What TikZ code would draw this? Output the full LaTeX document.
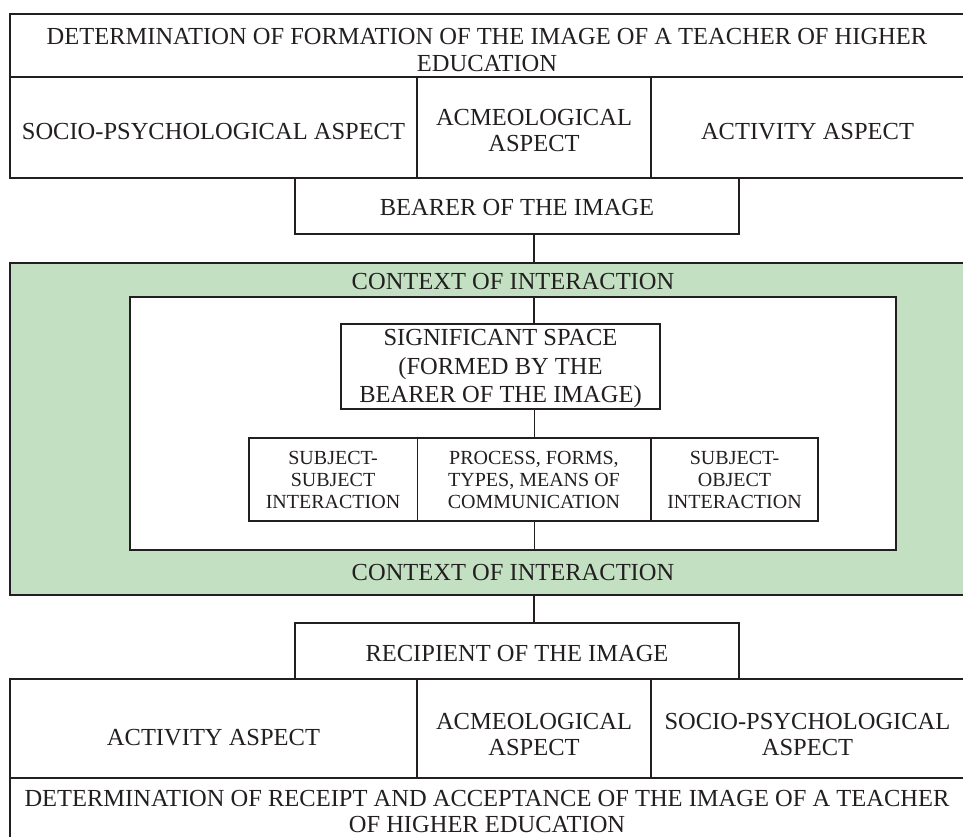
\documentclass[tikz,border=0pt]{standalone}
\usepackage{fontspec}
\setmainfont{Liberation Serif}
\definecolor{ink}{RGB}{35,31,32}
\definecolor{ctxgreen}{RGB}{195,224,194}
\begin{document}
\begin{tikzpicture}[x=1pt,y=-1pt,
  cell/.style={draw=ink, line width=1.1pt, inner sep=0pt, outer sep=0pt, anchor=north west, fill=white},
  txt/.style={text=ink, font=\fontsize{24.5}{26.5}\selectfont, align=center, inner sep=0pt},
  stxt/.style={text=ink, font=\fontsize{20}{22}\selectfont, align=center, inner sep=0pt},
  conn/.style={draw=ink, line width=1.1pt}]
\useasboundingbox (0,0) rectangle (963,837);
% boxes
\node[cell, minimum width=954pt, minimum height=63pt] (title) at (10,14) {};
\node[cell, minimum width=407pt, minimum height=101pt] (r1a) at (10,77) {};
\node[cell, minimum width=234pt, minimum height=101pt] (r1b) at (417,77) {};
\node[cell, minimum width=313pt, minimum height=101pt] (r1c) at (651,77) {};
\node[cell, minimum width=444pt, minimum height=56pt] (bearer) at (295,178) {};
\node[cell, fill=ctxgreen, minimum width=954pt, minimum height=332pt] (green) at (10,263) {};
\node[cell, minimum width=766pt, minimum height=253pt] (inner) at (130,297) {};
\node[cell, minimum width=319pt, minimum height=85pt] (sig) at (341,324) {};
\node[cell, minimum width=168.5pt, minimum height=83pt] (s1) at (249,438) {};
\node[cell, minimum width=233.5pt, minimum height=83pt] (s2) at (417.5,438) {};
\node[cell, minimum width=167pt, minimum height=83pt] (s3) at (651,438) {};
\node[cell, minimum width=444pt, minimum height=56pt] (recip) at (295,623) {};
\node[cell, minimum width=407pt, minimum height=99pt] (r2a) at (10,679) {};
\node[cell, minimum width=234pt, minimum height=99pt] (r2b) at (417,679) {};
\node[cell, minimum width=313pt, minimum height=99pt] (r2c) at (651,679) {};
\node[cell, minimum width=954pt, minimum height=80pt] (bottom) at (10,778) {};
% connectors
\draw[conn] (bearer.south -| r1b.south) -- (green.north -| r1b.south);
\draw[conn] (inner.north -| r1b.south) -- (sig.north -| r1b.south);
\draw[conn] (sig.south -| s2.north) -- (s2.north);
\draw[conn] (s2.south) -- (inner.south -| s2.south);
\draw[conn] (green.south -| r1b.south) -- (recip.north -| r1b.south);
% texts
\node[txt] (ttitle) at (487,50) {DETERMINATION OF FORMATION OF THE IMAGE OF A TEACHER OF HIGHER\\EDUCATION};
\node[txt] (t1a) at (213.5,132) {SOCIO-PSYCHOLOGICAL ASPECT};
\node[txt] (t1b) at (534,130.5) {ACMEOLOGICAL\\ASPECT};
\node[txt] (t1c) at (807.5,132) {ACTIVITY ASPECT};
\node[txt] (tbearer) at (517,208) {BEARER OF THE IMAGE};
\node[txt] (tctx1) at (513,282) {CONTEXT OF INTERACTION};
\node[txt, font=\fontsize{24.5}{28.5}\selectfont] (tsig) at (500.5,368.5) {SIGNIFICANT SPACE\\(FORMED BY THE\\BEARER OF THE IMAGE)};
\node[stxt] (ts1) at (333,480) {SUBJECT-\\SUBJECT\\INTERACTION};
\node[stxt] (ts2) at (534,480) {PROCESS, FORMS,\\TYPES, MEANS OF\\COMMUNICATION};
\node[stxt] (ts3) at (734.5,480) {SUBJECT-\\OBJECT\\INTERACTION};
\node[txt] (tctx2) at (513,573) {CONTEXT OF INTERACTION};
\node[txt] (trecip) at (517,654) {RECIPIENT OF THE IMAGE};
\node[txt] (t2a) at (213.5,738) {ACTIVITY ASPECT};
\node[txt] (t2b) at (534,734.5) {ACMEOLOGICAL\\ASPECT};
\node[txt] (t2c) at (807.5,734.5) {SOCIO-PSYCHOLOGICAL\\ASPECT};
\node[txt] (tbottom) at (487,811.5) {DETERMINATION OF RECEIPT AND ACCEPTANCE OF THE IMAGE OF A TEACHER\\OF HIGHER EDUCATION};
\end{tikzpicture}
\end{document}
